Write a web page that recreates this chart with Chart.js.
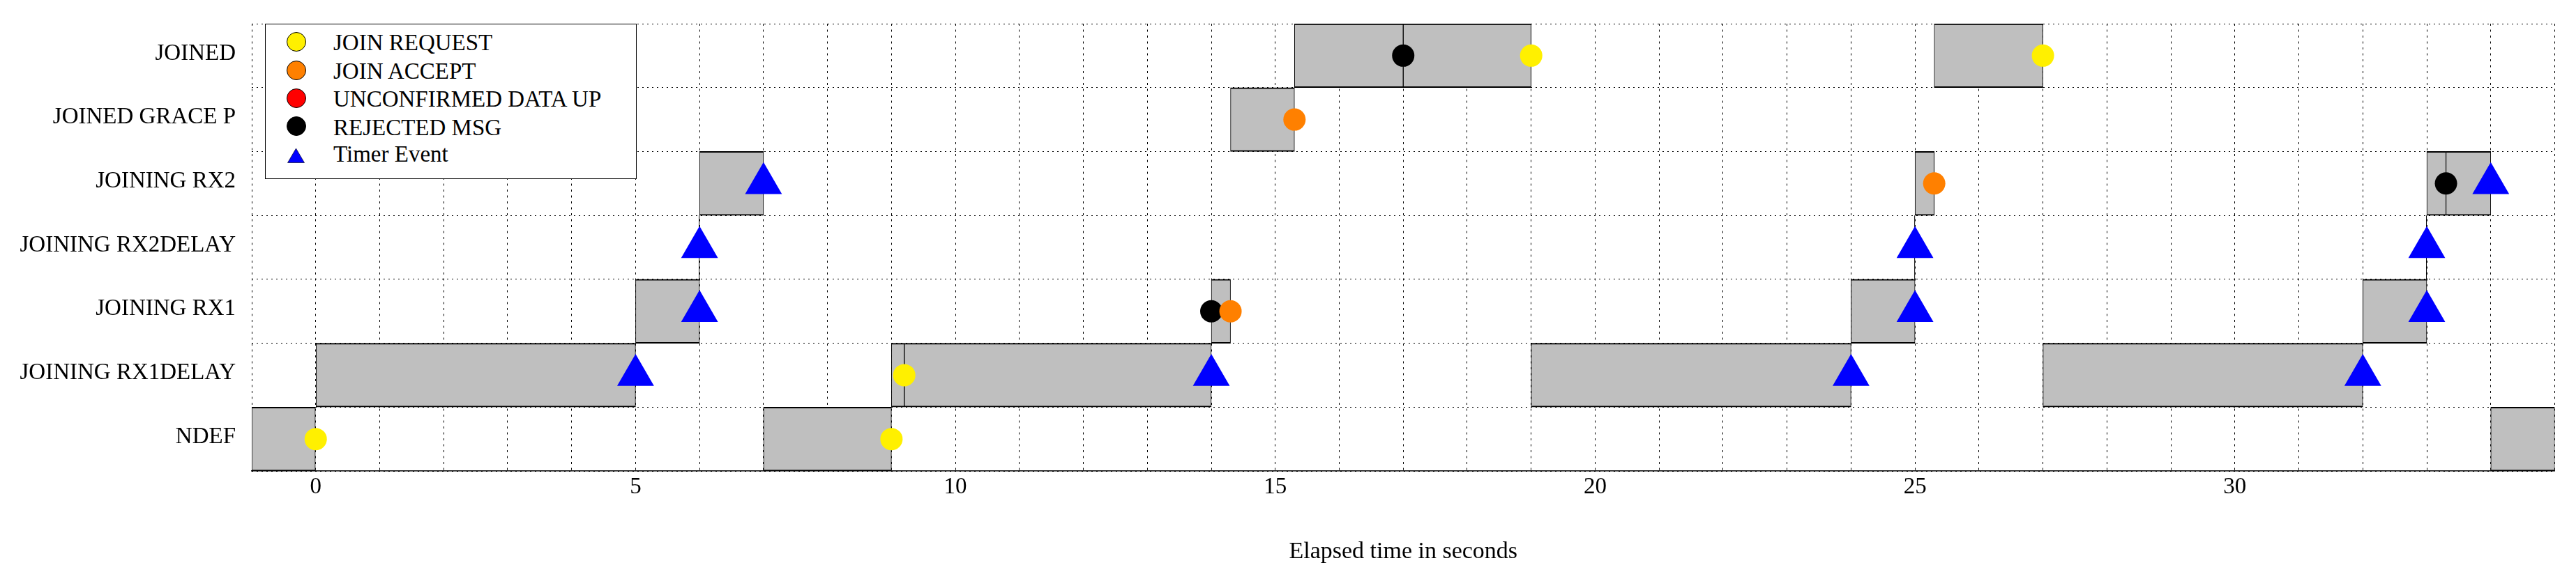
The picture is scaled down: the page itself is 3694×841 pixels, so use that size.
<!DOCTYPE html>
<html>
<head>
<meta charset="utf-8">
<script src="https://cdn.jsdelivr.net/npm/chart.js@4.4.1/dist/chart.umd.min.js"></script>
<style>
html,body{margin:0;padding:0;background:#fff;}
#wrap{position:relative;width:3694px;height:841px;}
#legend{position:absolute;left:380px;top:34px;width:533px;height:223px;border:1.5px solid #000;background:#fff;box-sizing:border-box;font-family:"Liberation Serif",serif;}
.mk{position:absolute;}
.lbl{position:absolute;left:97px;font-size:33px;line-height:33px;white-space:nowrap;color:#000;}
</style>
</head>
<body>
<div id="wrap">
  <canvas id="c" width="3694" height="841"></canvas>
  <div id="legend"></div>
</div>
<script>
// ---------------- data ----------------
const stateLabels = ['JOINED', 'JOINED GRACE P', 'JOINING RX2', 'JOINING RX2DELAY', 'JOINING RX1', 'JOINING RX1DELAY', 'NDEF'];
const xTickLabels = [0, 5, 10, 15, 20, 25, 30];

// state intervals (seconds)
const barState = ['NDEF', 'JOINING RX1DELAY', 'JOINING RX1', 'JOINING RX2DELAY', 'JOINING RX2', 'NDEF',
  'JOINING RX1DELAY', 'JOINING RX1DELAY', 'JOINING RX1', 'JOINED GRACE P', 'JOINED', 'JOINED',
  'JOINING RX1DELAY', 'JOINING RX1', 'JOINING RX2DELAY', 'JOINING RX2', 'JOINED',
  'JOINING RX1DELAY', 'JOINING RX1', 'JOINING RX2DELAY', 'JOINING RX2', 'JOINING RX2', 'NDEF'];
const barStart = [-1, 0, 5, 6, 6, 7, 9, 9.2, 14, 14.3, 15.3, 17, 19, 24, 25, 25, 25.3, 27, 32, 33, 33, 33.3, 34];
const barEnd   = [0, 5, 6, 6, 7, 9, 9.2, 14, 14.3, 15.3, 17, 19, 24, 25, 25, 25.3, 27, 32, 33, 33, 33.3, 34, 35];

// events
const seriesNames  = ['JOIN REQUEST', 'JOIN ACCEPT', 'UNCONFIRMED DATA UP', 'REJECTED MSG', 'Timer Event'];
const seriesColors = ['#fff000', '#ff8000', '#ff0000', '#000000', '#0000ff'];
const seriesShapes = ['circle', 'circle', 'circle', 'circle', 'triangle'];

const joinRequestX = [0, 9, 9.2, 19, 27];
const joinRequestState = ['NDEF', 'NDEF', 'JOINING RX1DELAY', 'JOINED', 'JOINED'];
const joinAcceptX = [14.3, 15.3, 25.3];
const joinAcceptState = ['JOINING RX1', 'JOINED GRACE P', 'JOINING RX2'];
const unconfirmedX = [];
const unconfirmedState = [];
const rejectedX = [14, 17, 33.3];
const rejectedState = ['JOINING RX1', 'JOINED', 'JOINING RX2'];
const timerX = [5, 6, 6, 7, 14, 24, 25, 25, 32, 33, 33, 34];
const timerState = ['JOINING RX1DELAY', 'JOINING RX1', 'JOINING RX2DELAY', 'JOINING RX2', 'JOINING RX1DELAY',
  'JOINING RX1DELAY', 'JOINING RX1', 'JOINING RX2DELAY', 'JOINING RX1DELAY', 'JOINING RX1', 'JOINING RX2DELAY', 'JOINING RX2'];

// ---------------- build ----------------
const FONT = 'Liberation Serif';
Chart.defaults.font.family = FONT;
Chart.defaults.color = '#000';

const spans = barState.map((s, i) => ({ y: s, x: [barStart[i], barEnd[i]] }));
const filledSpans = spans.filter(d => d.x[1] > d.x[0]);
const instantSpans = spans.filter(d => d.x[1] === d.x[0]);

const pts = (xs, ss) => xs.map((x, i) => ({ x: x, y: ss[i] }));
const eventSets = [
  pts(joinRequestX, joinRequestState),
  pts(joinAcceptX, joinAcceptState),
  pts(unconfirmedX, unconfirmedState),
  pts(rejectedX, rejectedState),
  pts(timerX, timerState)
];
const eventOrder = [3, 1, 4, 2, 0];

const datasets = eventSets.map((data, k) => ({
  type: 'scatter',
  label: seriesNames[k],
  data: data,
  pointStyle: seriesShapes[k],
  pointRadius: seriesShapes[k] === 'triangle' ? 30.5 : 16,
  pointBackgroundColor: seriesColors[k],
  pointBorderWidth: 0,
  backgroundColor: seriesColors[k],
  borderWidth: 0,
  order: eventOrder[k]
}));

datasets.push({
  type: 'bar',
  label: 'instant',
  data: instantSpans,
  backgroundColor: '#000',
  borderWidth: 0,
  minBarLength: 1,
  inflateAmount: 0,
  barPercentage: 1,
  categoryPercentage: 1,
  grouped: false,
  order: 9
});
datasets.push({
  type: 'bar',
  label: 'state',
  data: filledSpans,
  backgroundColor: '#bfbfbf',
  borderColor: '#000',
  borderWidth: { top: 2, bottom: 2, left: 1, right: 1 },
  borderSkipped: false,
  barPercentage: 1,
  categoryPercentage: 1,
  grouped: false,
  order: 10
});

new Chart(document.getElementById('c'), {
  type: 'bar',
  data: { labels: stateLabels, datasets: datasets },
  options: {
    indexAxis: 'y',
    responsive: false,
    devicePixelRatio: 1,
    animation: false,
    events: [],
    layout: { padding: { top: 34, right: 28, left: 0, bottom: 0 } },
    plugins: { legend: { display: false }, tooltip: { enabled: false } },
    scales: {
      x: {
        type: 'linear', position: 'bottom', min: -1, max: 35,
        grid: { color: '#000', lineWidth: 1, drawTicks: false },
        border: { display: true, color: '#000', width: 1.5, dash: [3, 5.5] },
        ticks: {
          stepSize: 1, autoSkip: false, maxRotation: 0, minRotation: 0, padding: 4,
          font: { family: FONT, size: 33 }, color: '#000',
          callback: (v) => xTickLabels.includes(v) ? String(v) : ''
        },
        title: { display: true, text: 'Elapsed time in seconds', color: '#000',
          font: { family: FONT, size: 34 }, padding: { top: 0, bottom: 29 } },
        afterFit: (s) => { s.height = 165; s.paddingLeft = 0; s.paddingRight = 0; }
      },
      y: {
        type: 'category', labels: stateLabels, position: 'left', offset: true,
        grid: { offset: true, color: '#000', lineWidth: 1, drawTicks: false },
        border: { display: false, dash: [2, 5] },
        ticks: { padding: 23, labelOffset: -3, font: { family: FONT, size: 33 }, color: '#000' },
        afterFit: (s) => { s.width = 361; s.paddingTop = 0; s.paddingBottom = 0; }
      }
    }
  }
});

// ---------------- legend (HTML, inside the plot, top-left) ----------------
const legend = document.getElementById('legend');
const markerCenters = [26.7, 67, 107, 147.7, 189.3];
const textCenters = [28.8, 69.7, 109.8, 150.3, 188.5];
seriesNames.forEach((name, k) => {
  const cy = markerCenters[k] - 1.5;
  let mk;
  if (seriesShapes[k] === 'triangle') {
    mk = document.createElementNS('http://www.w3.org/2000/svg', 'svg');
    mk.setAttribute('width', '25'); mk.setAttribute('height', '22');
    mk.setAttribute('class', 'mk');
    mk.style.left = (45 - 1.5 - 12.5) + 'px';
    mk.style.top = (cy - 11) + 'px';
    const poly = document.createElementNS('http://www.w3.org/2000/svg', 'polygon');
    poly.setAttribute('points', '12.5,1 24.5,21.5 0.5,21.5');
    poly.setAttribute('fill', seriesColors[k]);
    poly.setAttribute('stroke', '#000');
    poly.setAttribute('stroke-width', '0.6');
    mk.appendChild(poly);
  } else {
    mk = document.createElement('div');
    mk.className = 'mk';
    mk.style.width = '28px'; mk.style.height = '28px';
    mk.style.boxSizing = 'border-box';
    mk.style.borderRadius = '50%';
    mk.style.border = '1.2px solid #000';
    mk.style.background = seriesColors[k];
    mk.style.left = (45 - 1.5 - 14) + 'px';
    mk.style.top = (cy - 14) + 'px';
  }
  legend.appendChild(mk);
  const t = document.createElement('div');
  t.className = 'lbl';
  t.textContent = name;
  t.style.top = (textCenters[k] - 1.5 - 17) + 'px';
  legend.appendChild(t);
});
</script>
</body>
</html>
